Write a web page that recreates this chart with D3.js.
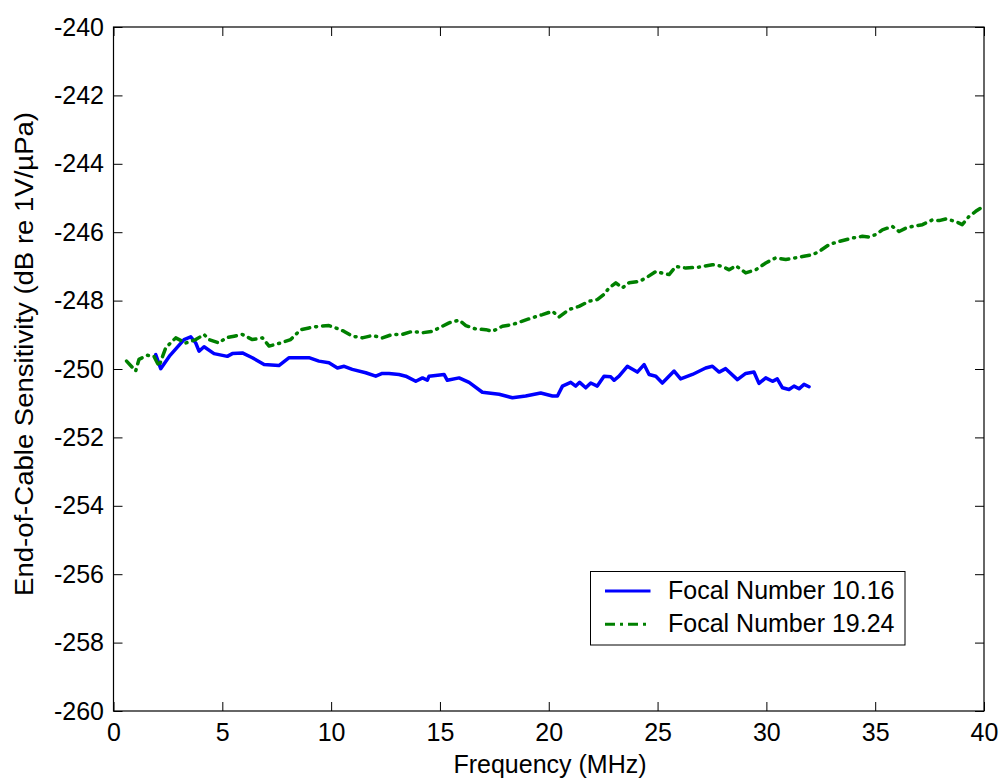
<!DOCTYPE html>
<html>
<head>
<meta charset="utf-8">
<script src="https://cdn.jsdelivr.net/npm/d3@7"></script>
<style>
  html, body { margin: 0; padding: 0; background: #fff; }
  svg { display: block; font-family: "Liberation Sans", Arial, sans-serif; }
</style>
</head>
<body>
<svg id="chart" width="1000" height="780"></svg>
<script>
// Frequency (MHz) and end-of-cable sensitivity (dB re 1V/µPa)
const freqA = [1.94, 2.17, 2.6, 3.24, 3.55, 3.78, 3.93, 4.16, 4.62, 5.23, 5.46, 5.92, 6.38, 6.92, 7.6, 8.07, 8.98, 9.44, 9.9, 10.29, 10.6, 10.97, 11.59, 12.05, 12.35, 12.66, 13.12, 13.43, 13.89, 14.2, 14.42, 14.5, 15.19, 15.34, 15.88, 16.34, 16.95, 17.72, 18.33, 18.94, 19.63, 20.17, 20.4, 20.63, 21.01, 21.24, 21.42, 21.7, 21.93, 22.23, 22.54, 22.85, 23.0, 23.23, 23.61, 24.07, 24.38, 24.61, 24.92, 25.22, 25.76, 26.06, 26.6, 27.21, 27.52, 27.83, 28.13, 28.67, 29.05, 29.43, 29.66, 29.97, 30.28, 30.5, 30.74, 31.04, 31.27, 31.5, 31.73, 31.96];
const sensA = [-249.58, -249.99, -249.6, -249.14, -249.06, -249.24, -249.48, -249.35, -249.55, -249.63, -249.55, -249.53, -249.67, -249.87, -249.9, -249.67, -249.67, -249.77, -249.82, -249.97, -249.92, -250.01, -250.11, -250.21, -250.13, -250.13, -250.16, -250.21, -250.36, -250.26, -250.33, -250.21, -250.16, -250.33, -250.26, -250.39, -250.68, -250.74, -250.84, -250.79, -250.7, -250.79, -250.79, -250.5, -250.39, -250.5, -250.39, -250.55, -250.41, -250.5, -250.21, -250.23, -250.33, -250.21, -249.92, -250.09, -249.87, -250.16, -250.21, -250.41, -250.06, -250.29, -250.16, -249.97, -249.92, -250.09, -249.99, -250.31, -250.13, -250.09, -250.42, -250.26, -250.36, -250.29, -250.55, -250.6, -250.5, -250.58, -250.45, -250.52];

const freqB = [0.6, 1.02, 1.17, 1.55, 1.86, 2.09, 2.4, 2.86, 3.32, 3.78, 4.16, 4.39, 4.85, 5.16, 5.54, 5.92, 6.38, 6.84, 7.15, 7.68, 8.14, 8.6, 8.98, 9.44, 9.9, 10.21, 10.6, 10.97, 11.43, 11.89, 12.35, 12.81, 13.27, 13.73, 14.19, 14.65, 15.11, 15.42, 15.88, 16.19, 16.65, 17.11, 17.41, 17.87, 18.33, 18.79, 19.25, 19.71, 20.17, 20.47, 20.93, 21.39, 21.85, 22.23, 22.54, 22.77, 23.08, 23.38, 23.69, 24.15, 24.46, 24.92, 25.22, 25.53, 25.84, 26.3, 26.91, 27.52, 27.98, 28.29, 28.6, 29.05, 29.51, 29.97, 30.43, 30.89, 31.35, 31.66, 32.12, 32.43, 32.89, 33.34, 33.65, 33.96, 34.41, 34.72, 35.03, 35.33, 35.79, 36.1, 36.41, 36.71, 37.17, 37.63, 37.94, 38.25, 38.71, 39.0, 39.31, 39.62, 39.86, 40.0];
const sensB = [-249.77, -250.06, -249.72, -249.6, -249.63, -249.92, -249.38, -249.09, -249.24, -249.14, -248.99, -249.14, -249.24, -249.09, -249.04, -248.99, -249.14, -249.09, -249.33, -249.24, -249.14, -248.85, -248.8, -248.75, -248.73, -248.8, -248.9, -249.04, -249.09, -249.02, -249.09, -248.99, -248.99, -248.9, -248.94, -248.9, -248.75, -248.65, -248.57, -248.73, -248.83, -248.85, -248.9, -248.75, -248.7, -248.6, -248.5, -248.41, -248.31, -248.48, -248.26, -248.17, -248.02, -247.97, -247.82, -247.63, -247.48, -247.63, -247.48, -247.44, -247.34, -247.15, -247.2, -247.24, -247.0, -247.05, -247.02, -246.95, -247.0, -247.1, -246.98, -247.19, -247.1, -246.9, -246.75, -246.8, -246.75, -246.71, -246.66, -246.56, -246.36, -246.27, -246.22, -246.17, -246.12, -246.14, -246.07, -245.93, -245.83, -245.98, -245.88, -245.83, -245.78, -245.64, -245.66, -245.61, -245.69, -245.78, -245.54, -245.39, -245.29, -245.31];

const seriesNames = ["Focal Number 10.16", "Focal Number 19.24"];
const seriesColors = ["#0000ff", "#008000"];
const xTicks = [0, 5, 10, 15, 20, 25, 30, 35, 40];
const yTicks = [-260, -258, -256, -254, -252, -250, -248, -246, -244, -242, -240];

const svg = d3.select("#chart");
const L = 113.5, R = 984, T = 27, B = 711;

const x = d3.scaleLinear().domain([0, 40]).range([L, R]);
const y = d3.scaleLinear().domain([-260, -240]).range([B, T]);

const tickLen = 9;
const fontSize = 25;
const font = "Liberation Sans, Arial, sans-serif";

// Bottom axis with inward ticks
const xAxis = svg.append("g").attr("transform", `translate(0,${B})`)
  .call(d3.axisBottom(x).tickValues(xTicks).tickSizeInner(-tickLen).tickSizeOuter(0).tickPadding(12));
xAxis.select(".domain").remove();
xAxis.selectAll("text").attr("font-size", fontSize).attr("fill", "#000").attr("font-family", font);

// Top axis ticks
const xTop = svg.append("g").attr("transform", `translate(0,${T})`)
  .call(d3.axisTop(x).tickValues(xTicks).tickSizeInner(-tickLen).tickSizeOuter(0).tickFormat(""));
xTop.select(".domain").remove();

// Left axis with inward ticks
const yAxis = svg.append("g").attr("transform", `translate(${L},0)`)
  .call(d3.axisLeft(y).tickValues(yTicks).tickSizeInner(-tickLen).tickSizeOuter(0).tickPadding(9.5)
    .tickFormat(d => String(d)));
yAxis.select(".domain").remove();
yAxis.selectAll("text").attr("font-size", fontSize).attr("fill", "#000").attr("font-family", font);

// Right axis ticks
const yRight = svg.append("g").attr("transform", `translate(${R},0)`)
  .call(d3.axisRight(y).tickValues(yTicks).tickSizeInner(-tickLen).tickSizeOuter(0).tickFormat(""));
yRight.select(".domain").remove();

svg.selectAll(".tick line").attr("stroke", "#000");

// Axes frame
svg.append("rect")
  .attr("x", L).attr("y", T).attr("width", R - L).attr("height", B - T)
  .attr("fill", "none").attr("stroke", "#000").attr("stroke-width", 1.2);

// Curves
const line = d3.line().x(d => x(d[0])).y(d => y(d[1]));
const dataA = freqA.map((f, i) => [f, sensA[i]]);
const dataB = freqB.map((f, i) => [f, sensB[i]]);

svg.append("path").datum(dataA).attr("d", line)
  .attr("fill", "none").attr("stroke", seriesColors[0]).attr("stroke-width", 3.5)
  .attr("stroke-linejoin", "round").attr("stroke-linecap", "round");
svg.append("path").datum(dataB).attr("d", line)
  .attr("fill", "none").attr("stroke", seriesColors[1]).attr("stroke-width", 3.5)
  .attr("stroke-linecap", "round").attr("stroke-linejoin", "round")
  .attr("stroke-dasharray", "8,6,1,6");

// Axis titles
svg.append("text").attr("x", 550).attr("y", 773)
  .attr("text-anchor", "middle").attr("font-size", fontSize).attr("fill", "#000").attr("font-family", font)
  .text("Frequency (MHz)");
svg.append("text")
  .attr("transform", `translate(33,${354}) rotate(-90)`)
  .attr("text-anchor", "middle").attr("font-size", fontSize).attr("fill", "#000").attr("font-family", font)
  .attr("textLength", 484).attr("lengthAdjust", "spacingAndGlyphs")
  .text("End-of-Cable Sensitivity (dB re 1V/µPa)");

// Legend
const lg = svg.append("g");
lg.append("rect").attr("x", 590.5).attr("y", 571.5).attr("width", 314.5).attr("height", 73.5)
  .attr("fill", "#fff").attr("stroke", "#000").attr("stroke-width", 1);
seriesNames.forEach((name, i) => {
  const yy = 591 + i * 33.3;
  lg.append("line").attr("x1", 605).attr("x2", 650.5).attr("y1", yy).attr("y2", yy)
    .attr("stroke", seriesColors[i]).attr("stroke-width", 3)
    .attr("stroke-dasharray", i === 1 ? "10,5,3,5" : null);
  lg.append("text").attr("x", 668).attr("y", yy + 7.5)
    .attr("font-size", fontSize).attr("fill", "#000").attr("font-family", font).text(name);
});
</script>
</body>
</html>
